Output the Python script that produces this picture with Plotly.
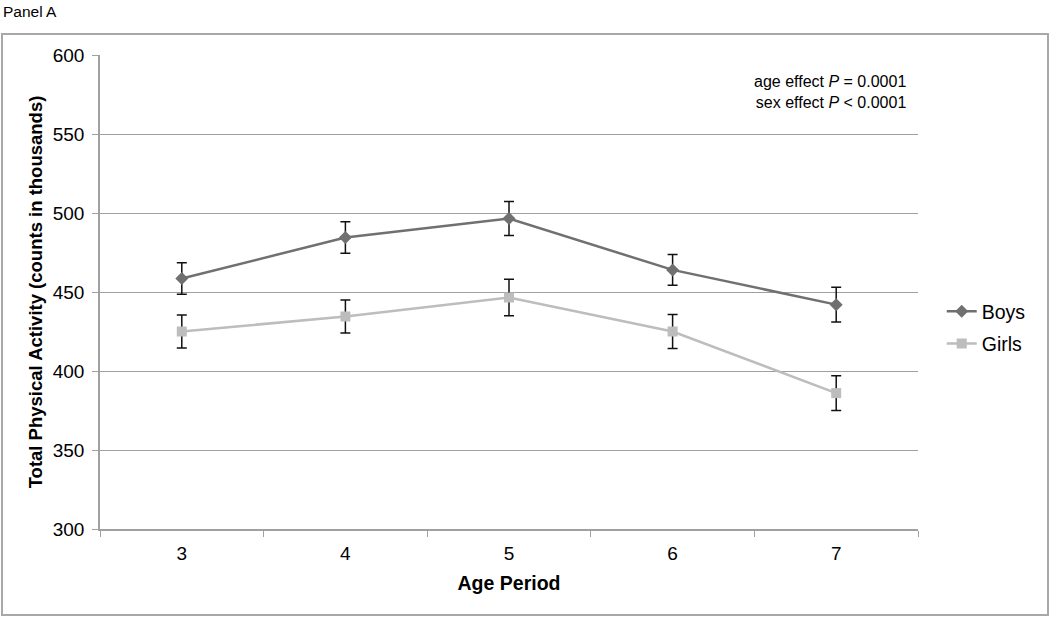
import plotly.graph_objects as go

ages = ["3", "4", "5", "6", "7"]
boys = [458.5, 484.5, 496.5, 464.0, 442.0]
boys_err = [10.0, 10.0, 10.7, 9.7, 11.0]
girls = [425.0, 434.5, 446.5, 425.0, 386.0]
girls_err = [10.5, 10.5, 11.6, 10.7, 11.0]

FONT = "Liberation Sans, Arial, sans-serif"
W, H = 1050, 617
L, R, T, B = 100, 132, 55, 88
pw, ph = W - L - R, H - T - B

fig = go.Figure()
fig.add_trace(go.Scatter(
    x=ages, y=boys, name="Boys", mode="lines+markers", legendgroup="b",
    line=dict(color="#707070", width=2.5),
    marker=dict(symbol="diamond", size=10, color="#707070"),
    error_y=dict(type="data", array=boys_err, color="#111111", thickness=1.5, width=5),
))
fig.add_trace(go.Scatter(
    x=ages, y=girls, name="Girls", mode="lines+markers", legendgroup="g",
    line=dict(color="#bdbdbd", width=2.5),
    marker=dict(symbol="square", size=10, color="#bdbdbd"),
    error_y=dict(type="data", array=girls_err, color="#111111", thickness=1.5, width=5),
))

fig.update_layout(
    width=W, height=H,
    margin=dict(l=L, r=R, t=T, b=B),
    paper_bgcolor="white", plot_bgcolor="white",
    font=dict(family=FONT, color="black", size=19),
    legend=dict(x=1.029, y=(H - B - 327.5) / ph, yanchor="middle", xanchor="left",
                font=dict(size=19.5), tracegroupgap=4, itemwidth=30),
    xaxis=dict(type="category", range=[-0.5, 4.5], tickson="boundaries", ticks="outside", ticklen=6,
               tickcolor="#a0a0a0", showline=True, linecolor="#a0a0a0", linewidth=1.5,
               showgrid=False, tickfont=dict(size=19), ticklabelstandoff=6,
               title=dict(text="<b>Age Period</b>", font=dict(size=19.5), standoff=14)),
    yaxis=dict(range=[300, 600], dtick=50, ticks="outside", ticklen=6,
               tickcolor="#a0a0a0", showline=True, linecolor="#a0a0a0", linewidth=1.5,
               gridcolor="#a0a0a0", gridwidth=1.2, zeroline=False,
               tickfont=dict(size=19), ticklabelstandoff=4,
               title=dict(text="<b>Total Physical Activity (counts in thousands)</b>",
                          font=dict(size=18.5), standoff=5)),
    shapes=[dict(type="rect", xref="paper", yref="paper",
                 x0=(2 - L) / pw, x1=(1048 - L) / pw,
                 y0=(H - B - 615) / ph, y1=(H - B - 34) / ph,
                 line=dict(color="#a8a8a8", width=2), fillcolor="rgba(0,0,0,0)", layer="below")],
    annotations=[
        dict(text="Panel A", xref="paper", yref="paper", x=(1 - L) / pw, y=(H - B - 11) / ph,
             xanchor="left", yanchor="middle", showarrow=False, font=dict(size=15.5)),
        dict(text="age effect <i>P</i> = 0.0001<br>sex effect <i>P</i> &lt; 0.0001",
             xref="paper", yref="paper", x=(908 - L) / pw, y=(H - B - 92) / ph,
             xanchor="right", yanchor="middle", align="right", showarrow=False,
             font=dict(size=16)),
    ],
)

fig.write_html("out.html", config={"displayModeBar": False},
               post_script="document.body.style.margin='0';document.body.style.overflow='hidden';")
